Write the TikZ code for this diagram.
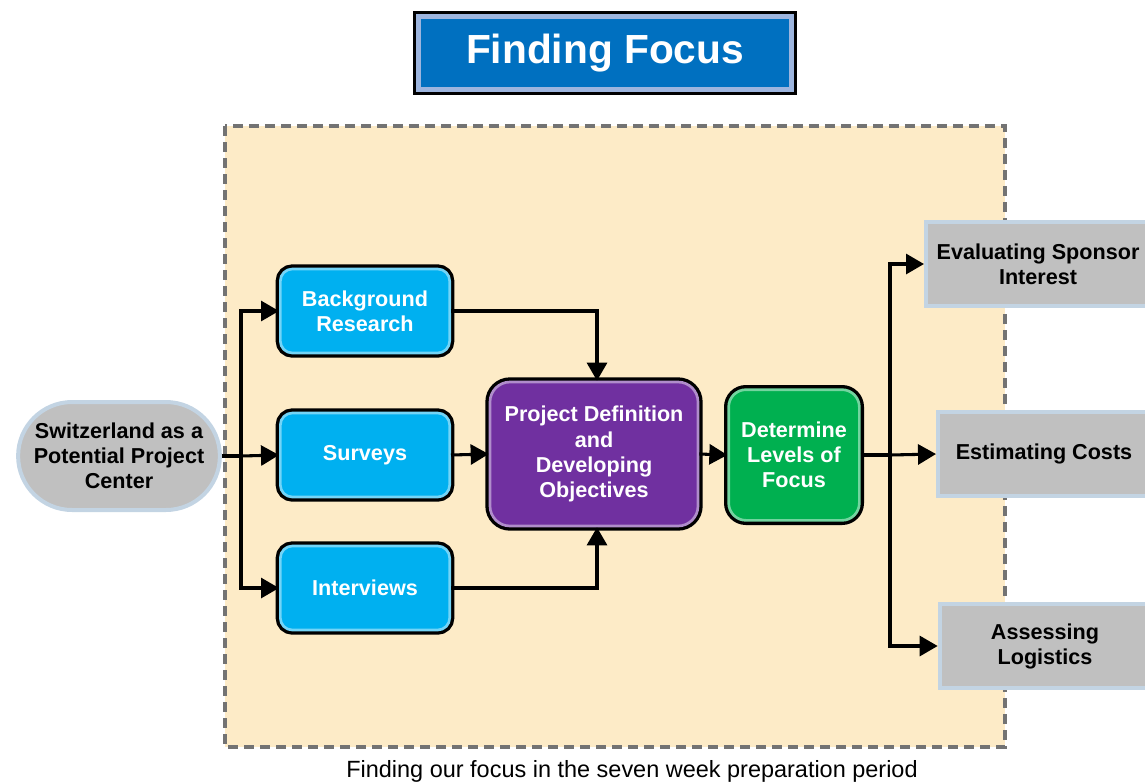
\documentclass[tikz,border=0pt]{standalone}
\usepackage{fontspec}
\setmainfont{Liberation Sans}
\usepackage{tikz}
\usetikzlibrary{calc}
\usetikzlibrary{positioning}
\usetikzlibrary{shapes.misc}
\usetikzlibrary{arrows.meta}

\definecolor{titleblue}{HTML}{0070C0}
\definecolor{titlerim}{HTML}{9DB5DE}
\definecolor{procblue}{HTML}{00B0F0}
\definecolor{procpurple}{HTML}{7030A0}
\definecolor{procgreen}{HTML}{00B050}
\definecolor{boxgrey}{HTML}{C0C0C0}
\definecolor{rimblue}{HTML}{C3D4E3}
\definecolor{peach}{HTML}{FDEBC7}

\tikzset{
  txt/.style={font=\bfseries\fontsize{16.2}{18.8}\selectfont, align=center},
  proc/.style={txt, text=white, rounded corners=9pt, line width=2pt,
    preaction={draw=black, line width=7pt}, draw=#1!55!white, fill=#1},
  greybox/.style={txt, fill=boxgrey, draw=rimblue, line width=3pt,
    minimum width=165pt, minimum height=63pt},
  arr/.style={line width=2.3pt, -{Triangle[length=13.5pt,width=15pt]}},
}

\begin{document}
\begin{tikzpicture}[x=0.75pt, y=-0.75pt]
				\useasboundingbox (0,0) rectangle (1145,783);
				% framed area
				\draw[fill=peach, draw=gray!90!black, line width=2.6pt, dash pattern=on 7.5pt off 4.5pt] (225,126) rectangle (1005,747);
				
				\node[txt, text=white, fill=titleblue, draw=titlerim, line width=3.5pt,
				      preaction={draw=black, line width=8pt},
				      font=\bfseries\fontsize{30.5}{34}\selectfont,
				      minimum width=280pt, minimum height=55pt] (title) at (605,53) {Finding Focus};
				
				\node[txt, rounded rectangle, fill=boxgrey, draw=rimblue, line width=3pt,
				      minimum width=158pt, minimum height=81pt] (swiss) at (119,456) {Switzerland as a\\Potential Project\\Center};
				
				\node[proc=procblue, minimum width=127pt, minimum height=63pt] (back) at (365,311) {Background\\Research};
				\node[proc=procblue, minimum width=127pt, minimum height=63pt] (surv) at (365,455) {Surveys};
				\node[proc=procblue, minimum width=127pt, minimum height=63pt] (inter) at (365,588) {Interviews};
				\node[proc=procpurple, rounded corners=15pt, minimum width=156pt, minimum height=108pt] (proj) at (594,454) {Project Definition\\and\\Developing\\Objectives};
				\node[proc=procgreen, rounded corners=13pt, minimum width=98pt, minimum height=98pt] (det) at (794,455) {Determine\\Levels of\\Focus};
				
				\node[greybox, minimum width=168pt] (spons) at (1038,264) {Evaluating Sponsor\\Interest};
				\node[greybox, minimum width=159pt] (cost) at (1044,454) {Estimating Costs};
				\node[greybox, minimum width=158pt] (logi) at (1045,646) {Assessing\\Logistics};
				
				\node[font=\fontsize{17.6}{20}\selectfont] (caption) at (632,771) {Finding our focus in the seven week preparation period};
				
				\coordinate (split) at (241,456);
				\coordinate (fan) at (890,455);
				
				\draw[line width=2.3pt] (swiss.east) -- (split);
				\draw[arr] (split) |- (back.west);
				\draw[arr] (split) -- (surv.west);
				\draw[arr] (split) |- (inter.west);
				\draw[arr] (back.east) -| ([xshift=2.25pt]proj.north);
				\draw[arr] (surv.east) -- (proj.west);
				\draw[arr] (inter.east) -| ([xshift=2.25pt]proj.south);
				\draw[arr] (proj.east) -- (det.west);
				\draw[line width=2.3pt] (det.east) -- (fan);
				\draw[arr] (fan) |- (spons.west);
				\draw[arr] (fan) -- (cost.west);
				\draw[arr] (fan) |- (logi.west);
			\end{tikzpicture}
\end{document}
